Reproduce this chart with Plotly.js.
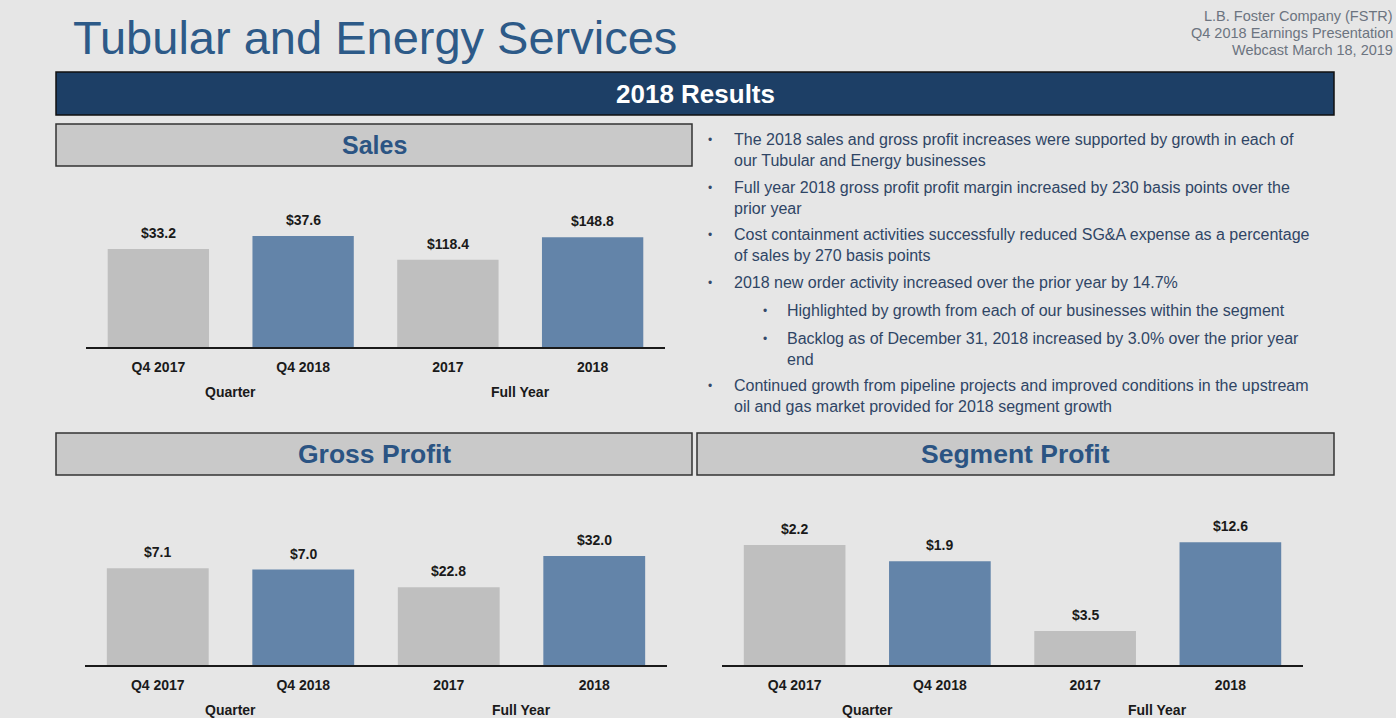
<!DOCTYPE html>
<html>
<head>
<meta charset="utf-8">
<script src="https://cdn.plot.ly/plotly-3.0.1.min.js"></script>
<style>
html,body{margin:0;padding:0;background:#e6e6e6;}
#chart{width:1396px;height:718px;}
</style>
</head>
<body>
<div id="chart"></div>
<script>
// ---------- DATA ----------
const categories = ["Q4 2017", "Q4 2018", "2017", "2018"];
const quarterCats = ["Q4 2017", "Q4 2018"];
const yearCats = ["2017", "2018"];
const groupLabels = ["Quarter", "Full Year"];

const salesQuarter = [33.2, 37.6];
const salesYear = [118.4, 148.8];
const grossQuarter = [7.1, 7.0];
const grossYear = [22.8, 32.0];
const segmentQuarter = [2.2, 1.9];
const segmentYear = [3.5, 12.6];

const panelTitles = ["Sales", "Gross Profit", "Segment Profit"];
const pageTitle = "Tubular and Energy Services";
const bannerText = "2018 Results";
const headerLines = ["L.B. Foster Company (FSTR)", "Q4 2018 Earnings Presentation", "Webcast March 18, 2019"];
const bullets = [
  {level: 0, text: "The 2018 sales and gross profit increases were supported by growth in each of<br>our Tubular and Energy businesses"},
  {level: 0, text: "Full year 2018 gross profit profit margin increased by 230 basis points over the<br>prior year"},
  {level: 0, text: "Cost containment activities successfully reduced SG&amp;A expense as a percentage<br>of sales by 270 basis points"},
  {level: 0, text: "2018 new order activity increased over the prior year by 14.7%"},
  {level: 1, text: "Highlighted by growth from each of our businesses within the segment"},
  {level: 1, text: "Backlog as of December 31, 2018 increased by 3.0% over the prior year<br>end"},
  {level: 0, text: "Continued growth from pipeline projects and improved conditions in the upstream<br>oil and gas market provided for 2018 segment growth"}
];
const valueFmt = v => "$" + v.toFixed(1);

// ---------- STYLE / LAYOUT ----------
const W = 1396, H = 718;
const px = x => x / W;
const py = y => 1 - y / H;
const FONT = "Liberation Sans, Arial, sans-serif";
const GRAY = "#bfbfbf", BLUE = "#6384a9";
const barColors = [GRAY, BLUE];

const panels = [
  {name: panelTitles[0], quarter: salesQuarter, year: salesYear, xa: "x", ya: ["y", "y2"],
   left: 86, right: 665, base: 347, top: 197, ranges: [50.8, 203.5], groupY: 392,
   box: [56, 124, 692, 166], titleSize: 25},
  {name: panelTitles[1], quarter: grossQuarter, year: grossYear, xa: "x2", ya: ["y3", "y4"],
   left: 85, right: 667, base: 665, top: 515, ranges: [11.0, 44.0], groupY: 710,
   box: [56, 433, 692, 475], titleSize: 26.5},
  {name: panelTitles[2], quarter: segmentQuarter, year: segmentYear, xa: "x3", ya: ["y5", "y6"],
   left: 722, right: 1303, base: 665, top: 515, ranges: [2.75, 15.4], groupY: 710,
   box: [697, 433, 1334, 475], titleSize: 26.5}
];

const traces = [];
const annotations = [];
const shapes = [];
const layout = {
  width: W, height: H,
  margin: {l: 0, r: 0, t: 0, b: 0},
  paper_bgcolor: "#e6e6e6",
  plot_bgcolor: "rgba(0,0,0,0)",
  showlegend: false,
  barmode: "overlay",
  bargap: 0.3,
  font: {family: FONT}
};

panels.forEach(p => {
  const xKey = p.xa === "x" ? "xaxis" : "xaxis" + p.xa.slice(1);
  const y1Key = p.ya[0] === "y" ? "yaxis" : "yaxis" + p.ya[0].slice(1);
  const y2Key = "yaxis" + p.ya[1].slice(1);
  layout[xKey] = {
    domain: [px(p.left), px(p.right)],
    anchor: p.ya[0],
    type: "category",
    categoryorder: "array",
    categoryarray: categories,
    range: [-0.5, categories.length - 0.5],
    showline: true, linecolor: "#1a1a1a", linewidth: 2,
    showgrid: false, zeroline: false,
    ticks: "outside", ticklen: 6, tickcolor: "rgba(0,0,0,0)",
    tickfont: {family: FONT, size: 14, color: "#1a1a1a", weight: 700},
    fixedrange: true
  };
  layout[y1Key] = {
    domain: [py(p.base), py(p.top)],
    anchor: p.xa,
    range: [0, p.ranges[0]],
    visible: false, fixedrange: true
  };
  layout[y2Key] = {
    overlaying: p.ya[0],
    anchor: p.xa,
    range: [0, p.ranges[1]],
    visible: false, fixedrange: true
  };

  traces.push({
    type: "bar", x: quarterCats, y: p.quarter, xaxis: p.xa, yaxis: p.ya[0],
    marker: {color: barColors}, hoverinfo: "x+y"
  });
  traces.push({
    type: "bar", x: yearCats, y: p.year, xaxis: p.xa, yaxis: p.ya[1],
    marker: {color: barColors}, hoverinfo: "x+y"
  });

  // value labels
  [[quarterCats, p.quarter, p.ya[0]], [yearCats, p.year, p.ya[1]]].forEach(([cats, vals, ya]) => {
    cats.forEach((c, i) => {
      annotations.push({
        xref: p.xa, yref: ya, x: categories.indexOf(c), y: vals[i],
        text: valueFmt(vals[i]), showarrow: false, yanchor: "bottom", yshift: 6,
        font: {family: FONT, size: 14, color: "#1a1a1a", weight: 700}
      });
    });
  });

  // group labels
  [quarterCats, yearCats].forEach((cats, gi) => {
    const mid = (categories.indexOf(cats[0]) + categories.indexOf(cats[cats.length - 1])) / 2;
    annotations.push({
      xref: p.xa, yref: "paper", x: mid, y: py(p.groupY), yanchor: "middle",
      text: groupLabels[gi], showarrow: false,
      font: {family: FONT, size: 14, color: "#1a1a1a", weight: 700}
    });
  });

  // panel title box
  const b = p.box;
  shapes.push({
    type: "rect", xref: "paper", yref: "paper",
    x0: px(b[0]), x1: px(b[2]), y0: py(b[3]), y1: py(b[1]),
    fillcolor: "#c9c9c9", line: {color: "#333333", width: 1.5}, layer: "below"
  });
  annotations.push({
    xref: "paper", yref: "paper", x: px((b[0] + b[2]) / 2), y: py((b[1] + b[3]) / 2),
    xanchor: "center", yanchor: "middle", text: p.name, showarrow: false,
    font: {family: FONT, size: p.titleSize, color: "#2b5483", weight: 700}
  });
});

// banner
shapes.push({
  type: "rect", xref: "paper", yref: "paper",
  x0: px(56), x1: px(1334), y0: py(115), y1: py(72),
  fillcolor: "#1d3f66", line: {color: "#111111", width: 1.5}, layer: "below"
});
annotations.push({
  xref: "paper", yref: "paper", x: px(695), y: py(94), xanchor: "center", yanchor: "middle",
  text: bannerText, showarrow: false,
  font: {family: FONT, size: 26, color: "#ffffff", weight: 700}
});

// page title
annotations.push({
  xref: "paper", yref: "paper", x: px(71), y: py(38), xanchor: "left", yanchor: "middle",
  text: pageTitle, showarrow: false,
  font: {family: FONT, size: 47, color: "#2d5a88"}
});

// header lines
const headerY = [16, 33, 50];
headerLines.forEach((t, i) => {
  annotations.push({
    xref: "paper", yref: "paper", x: px(1395), y: py(headerY[i]), xanchor: "right", yanchor: "middle",
    text: t, showarrow: false,
    font: {family: FONT, size: 14.5, color: "#6c7480"}
  });
});

// bullets
const bulletY = [140, 188, 235, 283, 311, 339, 386];
bullets.forEach((b, i) => {
  const bx = b.level === 0 ? 706 : 761;
  const tx = b.level === 0 ? 732 : 785;
  annotations.push({
    xref: "paper", yref: "paper", x: px(bx), y: py(bulletY[i]), xanchor: "left", yanchor: "middle",
    text: "•", showarrow: false, font: {family: FONT, size: 12, color: "#34496a"}
  });
  annotations.push({
    xref: "paper", yref: "paper", x: px(tx), y: py(bulletY[i] - 11), xanchor: "left", yanchor: "top",
    align: "left", text: b.text, showarrow: false,
    font: {family: FONT, size: 16, color: "#2f4565"}
  });
});

layout.annotations = annotations;
layout.shapes = shapes;

Plotly.newPlot("chart", traces, layout, {displayModeBar: false, staticPlot: true});
</script>
</body>
</html>
